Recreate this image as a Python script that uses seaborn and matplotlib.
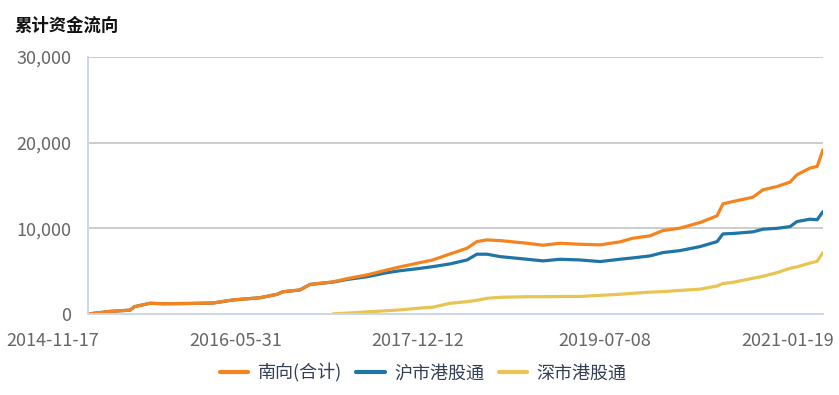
import matplotlib
matplotlib.use("Agg")
import numpy as np
import pandas as pd
import seaborn as sns
from matplotlib import pyplot as plt
from matplotlib import transforms
from matplotlib.lines import Line2D
from matplotlib.ticker import FuncFormatter

# data (cumulative flows)
dates = [
    "2014-11-17", "2015-01-23", "2015-03-26", "2015-04-08", "2015-05-26",
    "2015-07-05", "2015-09-26", "2015-12-05", "2016-02-05", "2016-04-28",
    "2016-06-19", "2016-07-07", "2016-08-28", "2016-09-28", "2016-12-08",
    "2017-01-20", "2017-03-22", "2017-05-22", "2017-07-01", "2017-08-22",
    "2017-10-10", "2017-12-02", "2018-01-23", "2018-02-22", "2018-03-25",
    "2018-05-04", "2018-07-26", "2018-09-13", "2018-11-04", "2019-01-04",
    "2019-03-07", "2019-05-07", "2019-06-16", "2019-08-07", "2019-09-16",
    "2019-11-07", "2020-01-08", "2020-02-29", "2020-03-18", "2020-04-18",
    "2020-06-18", "2020-07-19", "2020-08-31", "2020-10-10", "2020-10-31",
    "2020-12-10", "2021-01-01", "2021-01-19",
]
south_total = [
    0, 300, 450, 850, 1250, 1200, 1230, 1280, 1640, 1900,
    2300, 2600, 2800, 3450, 3750, 4130, 4560, 5140, 5500, 5920,
    6310, 7010, 7680, 8450, 8650, 8570, 8260, 8030, 8260, 8140,
    8070, 8420, 8850, 9120, 9740, 10020, 10680, 11460, 12860, 13130,
    13640, 14500, 14880, 15400, 16250, 17030, 17220, 19170,
]
sh_connect = [
    0, 300, 450, 850, 1250, 1200, 1230, 1280, 1640, 1900,
    2300, 2600, 2800, 3450, 3730, 4030, 4350, 4820, 5050, 5280,
    5530, 5850, 6310, 6980, 6980, 6700, 6390, 6200, 6390, 6310,
    6120, 6390, 6550, 6780, 7170, 7400, 7870, 8450, 9350, 9400,
    9590, 9900, 10000, 10200, 10790, 11070, 11000, 11960,
]
sz_connect = [
    np.nan, np.nan, np.nan, np.nan, np.nan, np.nan, np.nan, np.nan, np.nan, np.nan,
    np.nan, np.nan, np.nan, np.nan, 20, 100, 250, 380, 480, 660,
    800, 1250, 1440, 1600, 1830, 1950, 2020, 2020, 2040, 2050,
    2180, 2300, 2420, 2550, 2610, 2750, 2900, 3270, 3550, 3700,
    4170, 4400, 4830, 5340, 5500, 5950, 6150, 7170,
]
series_names = ["南向(合计)", "沪市港股通", "深市港股通"]
colors = ["#f5841f", "#1f75a6", "#e8c552"]
tick_dates = ["2014-11-17", "2016-05-31", "2017-12-12", "2019-07-08", "2021-01-19"]

df = pd.DataFrame({"date": pd.to_datetime(dates)})
df[series_names[0]] = south_total
df[series_names[1]] = sh_connect
df[series_names[2]] = sz_connect
long_df = df.melt(id_vars="date", var_name="series", value_name="value").dropna()

sns.set_style("white")
plt.rcParams["font.family"] = ["Noto Sans CJK SC", "DejaVu Sans"]

fig = plt.figure(figsize=(8.39, 3.95), dpi=100)
ax = fig.add_axes([88 / 839, 1 - 314 / 395, 735 / 839, 257 / 395])

# draw in reverse so the total (orange) sits on top
sns.lineplot(
    data=long_df, x="date", y="value", hue="series",
    hue_order=series_names[::-1], palette=colors[::-1], linewidth=2.3,
    legend=False, ax=ax,
)

x0 = pd.Timestamp(tick_dates[0])
x1 = pd.Timestamp(tick_dates[-1])
ax.set_xlim(x0, x1)
ax.set_ylim(0, 30000)
ax.set_yticks([0, 10000, 20000, 30000])
ax.yaxis.set_major_formatter(FuncFormatter(lambda v, _: f"{int(v):,}"))
ax.set_xticks(pd.to_datetime(tick_dates))
ax.set_xticklabels(tick_dates)
ax.set_xlabel("")
ax.set_ylabel("")

# grid and axes styling
ax.grid(axis="y", color="#cccccc", linewidth=1.4)
ax.grid(axis="x", visible=False)
for side in ["top", "right"]:
    ax.spines[side].set_visible(False)
for side in ["left", "bottom"]:
    ax.spines[side].set_color("#ccd6eb")
    ax.spines[side].set_linewidth(1.4)
    ax.spines[side].set_zorder(3)

ax.tick_params(axis="y", length=0, pad=12, labelsize=13, labelcolor="#666666")
ax.tick_params(axis="x", length=9, width=1.4, color="#ccd6eb", direction="out",
               pad=4, labelsize=13, labelcolor="#666666")
offset = transforms.ScaledTranslation(11 / 100, 0, fig.dpi_scale_trans)
for lbl in ax.get_xticklabels():
    lbl.set_horizontalalignment("right")
    lbl.set_transform(lbl.get_transform() + offset)

fig.text(15 / 839, 1 - 26 / 395, "累计资金流向", fontsize=12.5,
         fontweight="bold", color="#111111", va="center", ha="left")

handles = [Line2D([0], [0], color=c, linewidth=3) for c in colors]
fig.legend(
    handles, series_names, loc="center", bbox_to_anchor=(423 / 839, 1 - 373 / 395),
    ncol=3, frameon=False, fontsize=13, handlelength=1.6, handletextpad=0.5,
    columnspacing=0.8, labelcolor="#333f55",
)

fig.savefig("out.png", dpi=100)
